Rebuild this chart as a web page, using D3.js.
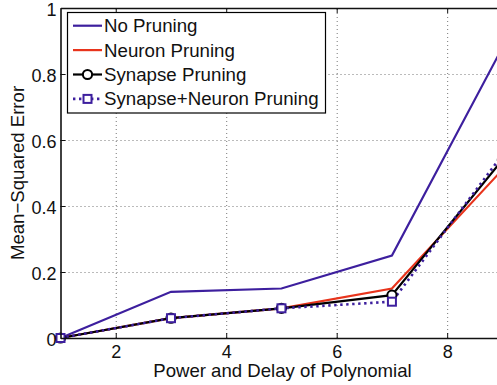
<!DOCTYPE html>
<html>
<head>
<meta charset="utf-8">
<script src="https://cdn.jsdelivr.net/npm/d3@7"></script>
<style>
  body { margin: 0; background: #fff; }
  svg { display: block; font-family: "Liberation Sans", Arial, Helvetica, sans-serif; }
  .grid line { stroke: #777; stroke-width: 1; stroke-dasharray: 1,3; }
  .grid path { display: none; }
  .axis path, .axis line { stroke: #111; }
  .axis text { font-size: 18px; fill: #111; }
</style>
</head>
<body>
<svg id="chart" width="497" height="385"></svg>
<script>
const powers = [1, 3, 5, 7, 9];
const noPruning = [0, 0.14, 0.15, 0.25, 0.88];
const neuronPruning = [0, 0.06, 0.09, 0.15, 0.51];
const synapsePruning = [0, 0.06, 0.09, 0.13, 0.54];
const synapseNeuronPruning = [0, 0.06, 0.09, 0.11, 0.555];
const xTicks = [2, 4, 6, 8];
const yTicks = [0, 0.2, 0.4, 0.6, 0.8, 1];
const seriesNames = ['No Pruning', 'Neuron Pruning', 'Synapse Pruning', 'Synapse+Neuron Pruning'];

const purple = '#3d1f9e';
const red = '#e8341c';

const svg = d3.select('#chart');
const plotLeft = 60.5, plotRight = 502.4, plotTop = 8, plotBottom = 338;

const x = d3.scaleLinear().domain([1, 9]).range([plotLeft, plotRight]);
const y = d3.scaleLinear().domain([0, 1]).range([plotBottom, plotTop]);

// grid
svg.append('g')
  .attr('class', 'grid')
  .attr('transform', `translate(0, ${plotBottom})`)
  .call(d3.axisBottom(x).tickValues(xTicks).tickSize(-(plotBottom - plotTop)).tickFormat(''));
svg.append('g')
  .attr('class', 'grid')
  .attr('transform', `translate(${plotLeft}, 0)`)
  .call(d3.axisLeft(y).tickValues(yTicks.slice(1, -1)).tickSize(-(plotRight - plotLeft)).tickFormat(''));

const rows = (vals) => powers.map((p, i) => ({ x: p, y: vals[i] }));
const line = d3.line().x(d => x(d.x)).y(d => y(d.y));

const series = [
  { name: seriesNames[0], data: rows(noPruning), color: purple, width: 2.2, dash: null },
  { name: seriesNames[1], data: rows(neuronPruning), color: red, width: 2.2, dash: null },
  { name: seriesNames[2], data: rows(synapsePruning), color: '#000', width: 2.2, dash: null, marker: 'circle' },
  { name: seriesNames[3], data: rows(synapseNeuronPruning), color: purple, width: 2.6, dash: '2.4,3.6', marker: 'square' }
];

series.forEach(s => {
  svg.append('path')
    .datum(s.data)
    .attr('d', line)
    .attr('fill', 'none')
    .attr('stroke', s.color)
    .attr('stroke-width', s.width)
    .attr('stroke-dasharray', s.dash);
});

function drawMarker(g, type, color, cx, cy) {
  if (type === 'circle') {
    g.append('circle').attr('cx', cx).attr('cy', cy).attr('r', 4.6)
      .attr('fill', '#fff').attr('stroke', color).attr('stroke-width', 2);
  } else if (type === 'square') {
    g.append('rect').attr('x', cx - 4).attr('y', cy - 4).attr('width', 8).attr('height', 8)
      .attr('fill', '#fff').attr('stroke', color).attr('stroke-width', 2);
  }
}

const markerG = svg.append('g');
series.filter(s => s.marker).forEach(s => {
  s.data.forEach(d => drawMarker(markerG, s.marker, s.color, x(d.x), y(d.y)));
});

// axes box
svg.append('g')
  .attr('class', 'axis')
  .attr('transform', `translate(0, ${plotBottom})`)
  .call(d3.axisBottom(x).tickValues(xTicks).tickSizeInner(-5).tickSizeOuter(0).tickPadding(7));
svg.append('g')
  .attr('class', 'axis')
  .attr('transform', `translate(0, ${plotTop})`)
  .call(d3.axisTop(x).tickValues(xTicks).tickSizeInner(-5).tickSizeOuter(0).tickFormat(''));
svg.append('g')
  .attr('class', 'axis y')
  .attr('transform', `translate(${plotLeft}, 0)`)
  .call(d3.axisLeft(y).tickValues(yTicks).tickSizeInner(-5).tickSizeOuter(0).tickPadding(4)
    .tickFormat(d => String(+d.toFixed(1))));
svg.selectAll('.axis.y text').attr('dy', '0.4em');
svg.selectAll('.axis path').attr('stroke-width', 1.6);
svg.selectAll('.axis line').attr('stroke-width', 1);

// axis labels
svg.append('text')
  .attr('x', (plotLeft + plotRight) / 2 + 1)
  .attr('y', 377)
  .attr('text-anchor', 'middle')
  .style('font-size', '18.6px')
  .attr('fill', '#111')
  .text('Power and Delay of Polynomial');
svg.append('text')
  .attr('transform', `translate(23.5, ${(plotTop + plotBottom) / 2}) rotate(-90)`)
  .attr('text-anchor', 'middle')
  .style('font-size', '18.6px')
  .attr('fill', '#111')
  .text('Mean\u2212Squared Error');

// legend
const legend = svg.append('g').attr('transform', 'translate(67.5, 12.5)');
legend.append('rect')
  .attr('width', 258).attr('height', 100.5)
  .attr('fill', '#fff').attr('stroke', '#000').attr('stroke-width', 1.2);

series.forEach((s, i) => {
  const row = legend.append('g').attr('transform', `translate(0, ${13.2 + i * 24.4})`);
  row.append('line')
    .attr('x1', 5.5).attr('x2', 34.5)
    .attr('stroke', s.color)
    .attr('stroke-width', s.width)
    .attr('stroke-dasharray', s.dash);
  if (s.marker) drawMarker(row, s.marker, s.color, 20, 0);
  row.append('text')
    .attr('x', 36.5)
    .attr('y', 0)
    .attr('dy', '0.35em')
    .style('font-size', '18.7px')
    .attr('fill', '#111')
    .text(s.name);
});
</script>
</body>
</html>
